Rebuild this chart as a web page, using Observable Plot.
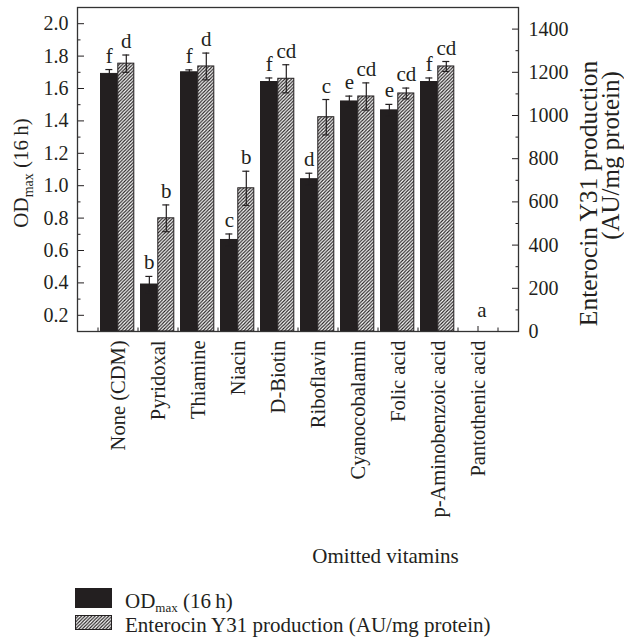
<!DOCTYPE html>
<html>
<head>
<meta charset="utf-8">
<script src="https://cdn.jsdelivr.net/npm/d3@7"></script>
<script src="https://cdn.jsdelivr.net/npm/@observablehq/plot@0.6"></script>
<style>
  body { margin: 0; background: #fff; }
  #chart svg, #legend svg { display: block; }
</style>
</head>
<body>
<div id="chart"></div>
<div id="legend"></div>
<script>
// ---- data ----
const categories = ["None (CDM)", "Pyridoxal", "Thiamine", "Niacin", "D-Biotin", "Riboflavin", "Cyanocobalamin", "Folic acid", "p-Aminobenzoic acid", "Pantothenic acid"];
const odMax = [1.69, 0.39, 1.70, 0.665, 1.64, 1.04, 1.52, 1.465, 1.64, 0.1];
const odErr = [0.027, 0.05, 0.015, 0.037, 0.025, 0.037, 0.033, 0.037, 0.025, 0];
const odLetters = ["f", "b", "f", "c", "f", "d", "e", "e", "f", ""];
const enterocin = [1240, 524, 1227, 663, 1170, 992, 1088, 1102, 1227, 0];
const enterocinErr = [40, 62, 62, 79, 65, 82, 63, 25, 23, 0];
const enterocinLetters = ["d", "b", "d", "b", "cd", "c", "cd", "cd", "cd", "a"];
const leftTicks = [0.2, 0.4, 0.6, 0.8, 1.0, 1.2, 1.4, 1.6, 1.8, 2.0];
const leftMinorTicks = [0.1, 0.3, 0.5, 0.7, 0.9, 1.1, 1.3, 1.5, 1.7, 1.9];
const rightTicks = [0, 200, 400, 600, 800, 1000, 1200, 1400];
const rightMinorTicks = [100, 300, 500, 700, 900, 1100, 1300];
const leftDomain = [0.1, 2.1];
const rightDomain = [0, 1500];

// ---- helpers ----
const ink = "#231f20";
const font = "'Liberation Serif', 'Times New Roman', serif";
const toY = v => leftDomain[0] + (v - rightDomain[0]) * (leftDomain[1] - leftDomain[0]) / (rightDomain[1] - rightDomain[0]);
const fromY = y => rightDomain[0] + (y - leftDomain[0]) * (rightDomain[1] - rightDomain[0]) / (leftDomain[1] - leftDomain[0]);

const rows = categories.map((c, i) => ({
  cat: c, od: odMax[i], odErr: odErr[i], odLetter: odLetters[i],
  ent: enterocin[i], entErr: enterocinErr[i], entLetter: enterocinLetters[i]
}));
const odErrRows = rows.filter(d => d.odErr > 0);
const entErrRows = rows.filter(d => d.entErr > 0);

const offOD = -8.65, offEnt = 8.3;

function addHatch(defs, id) {
  const p = defs.append("pattern").attr("id", id).attr("patternUnits", "userSpaceOnUse")
    .attr("width", 3.4).attr("height", 3.4);
  p.append("rect").attr("width", 3.4).attr("height", 3.4).attr("fill", "#fff");
  p.append("path").attr("d", "M-0.85,0.85 L0.85,-0.85 M0,3.4 L3.4,0 M2.55,4.25 L4.25,2.55")
    .attr("stroke", ink).attr("stroke-width", 1.15);
}
const hatchDefs = () => {
  const defs = d3.create("svg:defs");
  addHatch(defs, "hatch");
  return defs.node();
};

const chart = Plot.plot({
  width: 624,
  height: 582,
  marginTop: 7,
  marginBottom: 251,
  marginLeft: 77,
  marginRight: 106,
  style: { fontFamily: font, color: ink, background: "#fff", overflow: "visible" },
  x: { type: "band", domain: categories, paddingInner: 0, paddingOuter: 0.5125, round: false, axis: null },
  y: { domain: leftDomain, axis: null },
  marks: [
    hatchDefs,
    // x ticks (inward)
    Plot.axisX({ anchor: "bottom", tickSize: -5, tickFormat: () => "", label: null }),
    Plot.axisX({ anchor: "bottom", tickSize: -3.5, dx: -20, tickFormat: () => "", label: null }),
    Plot.axisX({ anchor: "bottom", ticks: [categories[categories.length - 1]], tickSize: -3.5, dx: 20, tickFormat: () => "", label: null }),
    // bars
    Plot.barY(rows, { x: "cat", y1: () => leftDomain[0], y2: "od", fill: ink, stroke: ink, strokeWidth: 1, insetLeft: 3, insetRight: 20.3 }),
    Plot.barY(rows, { x: "cat", y1: () => toY(0), y2: d => toY(d.ent), fill: "url(#hatch)", stroke: ink, strokeWidth: 1, insetLeft: 20.3, insetRight: 3.7 }),
    // error bars
    Plot.ruleX(odErrRows, { x: "cat", y1: d => d.od - d.odErr, y2: d => d.od + d.odErr, dx: offOD, stroke: ink, strokeWidth: 1.2 }),
    Plot.tickY(odErrRows, { x: "cat", y: d => d.od + d.odErr, dx: offOD, insetLeft: 16.5, insetRight: 16.5, stroke: ink, strokeWidth: 1.2 }),
    Plot.tickY(odErrRows, { x: "cat", y: d => d.od - d.odErr, dx: offOD, insetLeft: 16.5, insetRight: 16.5, stroke: ink, strokeWidth: 1.2 }),
    Plot.ruleX(entErrRows, { x: "cat", y1: d => toY(d.ent - d.entErr), y2: d => toY(d.ent + d.entErr), dx: offEnt, stroke: ink, strokeWidth: 1.2 }),
    Plot.tickY(entErrRows, { x: "cat", y: d => toY(d.ent + d.entErr), dx: offEnt, insetLeft: 16.5, insetRight: 16.5, stroke: ink, strokeWidth: 1.2 }),
    Plot.tickY(entErrRows, { x: "cat", y: d => toY(d.ent - d.entErr), dx: offEnt, insetLeft: 16.5, insetRight: 16.5, stroke: ink, strokeWidth: 1.2 }),
    // significance letters
    Plot.text(rows.filter(d => d.odLetter), { x: "cat", y: d => d.od + d.odErr, text: "odLetter", dx: offOD, dy: -7, lineAnchor: "bottom", fontSize: 21, fill: ink }),
    Plot.text(rows.filter(d => d.entLetter && d.entErr > 0), { x: "cat", y: d => toY(d.ent + d.entErr), text: "entLetter", dx: offEnt, dy: -7, lineAnchor: "bottom", fontSize: 21, fill: ink }),
    Plot.text(rows.filter(d => d.entLetter && d.entErr === 0), { x: "cat", y: d => toY(d.ent), text: "entLetter", dx: 4, dy: -15, lineAnchor: "bottom", fontSize: 21, fill: ink }),
    // left axis
    Plot.axisY({ anchor: "left", ticks: leftMinorTicks, tickSize: -3.5, tickFormat: () => "", label: null }),
    Plot.axisY({ anchor: "left", ticks: leftTicks, tickSize: -7, tickFormat: () => "", label: null }),
    Plot.axisY({ anchor: "left", ticks: leftTicks, tickSize: 0, tickPadding: 9, tickFormat: d => d.toFixed(1), fontSize: 20, label: null }),
    // right axis (enterocin units mapped onto the shared y scale)
    Plot.axisY({ anchor: "right", ticks: rightMinorTicks.map(toY), tickSize: -3.5, tickFormat: () => "", label: null }),
    Plot.axisY({ anchor: "right", ticks: rightTicks.map(toY), tickSize: -7, tickFormat: () => "", label: null }),
    Plot.axisY({ anchor: "right", ticks: rightTicks.map(toY), tickSize: 0, tickPadding: 10, tickFormat: d => String(Math.round(fromY(d))), fontSize: 20, label: null }),
    // category labels
    Plot.axisX({ anchor: "bottom", tickSize: 0, tickPadding: 9, tickRotate: -90, fontSize: 20.5, label: null }),
    // axis titles
    Plot.text(["Omitted vitamins"], { frameAnchor: "bottom", text: d => d, textAnchor: "middle", dx: 87.5, dy: 231, lineAnchor: "bottom", fontSize: 21, fill: ink }),
    Plot.text(["Enterocin Y31 production"], { frameAnchor: "right", text: d => d, textAnchor: "middle", rotate: -90, dx: 78, dy: 24, lineAnchor: "bottom", fontSize: 25.5, fill: ink }),
    Plot.text(["(AU/mg protein)"], { frameAnchor: "right", text: d => d, textAnchor: "middle", rotate: -90, dx: 100, dy: -14, lineAnchor: "bottom", fontSize: 25, fill: ink }),
    Plot.frame({ stroke: "#333", strokeWidth: 1.3 })
  ]
});

// left axis title with subscript
const svg = d3.select(chart);
const lt = svg.append("text")
  .attr("transform", "translate(28,173) rotate(-90)")
  .attr("text-anchor", "middle")
  .attr("font-family", font).attr("font-size", 21).attr("fill", ink);
lt.append("tspan").text("OD");
lt.append("tspan").attr("dy", 5).attr("font-size", 14).text("max");
lt.append("tspan").attr("dy", -5).text(" (16\u2009h)");

document.getElementById("chart").appendChild(chart);

// ---- legend below the chart ----
const leg = d3.select("#legend").append("svg").attr("width", 624).attr("height", 57);
addHatch(leg.append("defs"), "hatchL");
leg.append("rect").attr("x", 75).attr("y", 6).attr("width", 37).attr("height", 20).attr("fill", ink);
leg.append("rect").attr("x", 75.5).attr("y", 33.5).attr("width", 36).attr("height", 14).attr("fill", "url(#hatchL)").attr("stroke", ink);
const t1 = leg.append("text").attr("x", 125).attr("y", 26).attr("font-family", font).attr("font-size", 21).attr("fill", ink);
t1.append("tspan").text("OD");
t1.append("tspan").attr("dy", 3.5).attr("font-size", 13).text("max");
t1.append("tspan").attr("dy", -3.5).text(" (16\u2009h)");
leg.append("text").attr("x", 125).attr("y", 50).attr("font-family", font).attr("font-size", 21).attr("fill", ink)
  .text("Enterocin Y31 production (AU/mg protein)");
</script>
</body>
</html>
